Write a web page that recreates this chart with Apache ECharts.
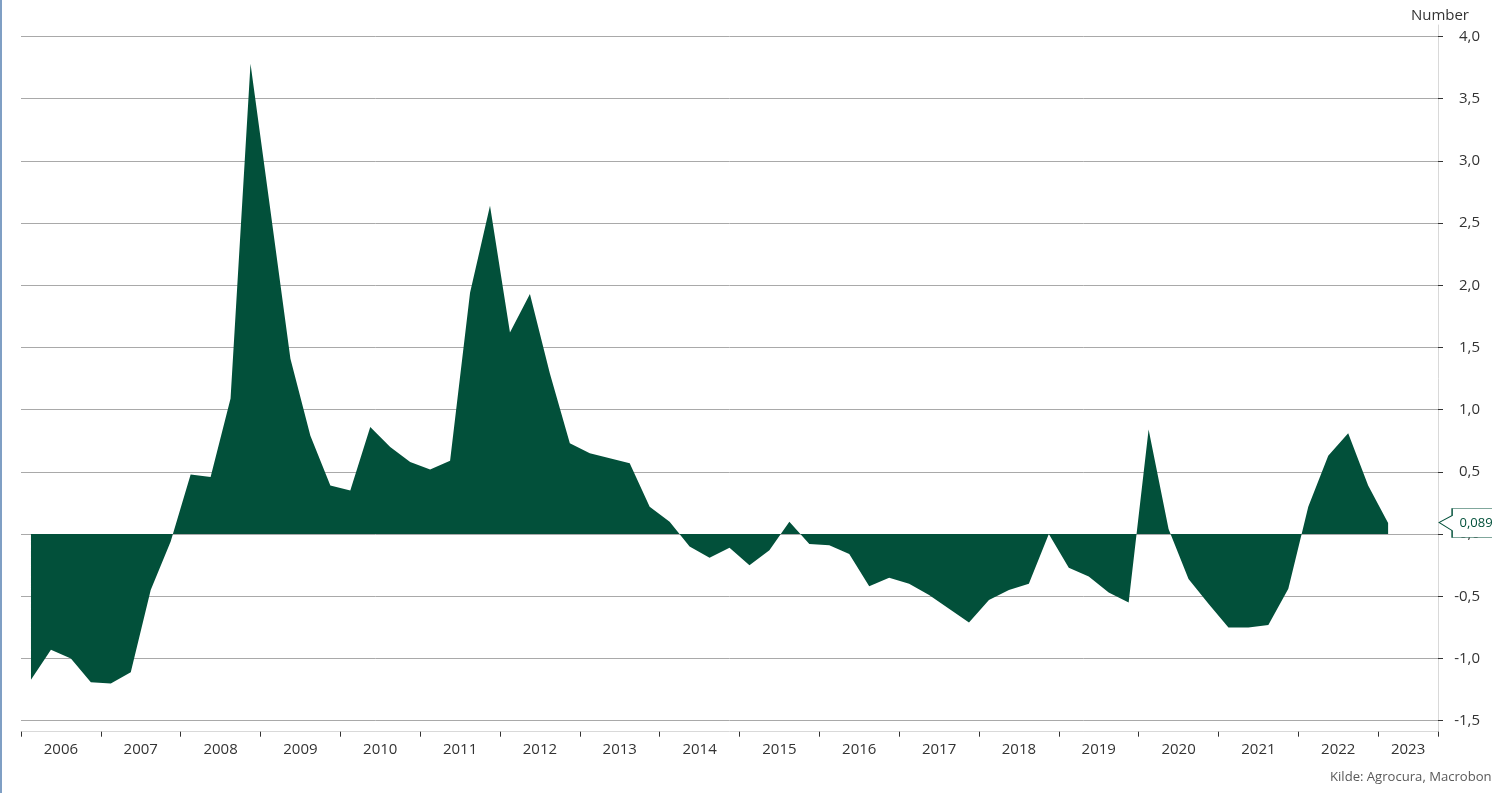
<!DOCTYPE html>
<html>
<head>
<meta charset="utf-8">
<script src="https://cdn.jsdelivr.net/npm/echarts@6/dist/echarts.min.js"></script>
<style>
  html, body { margin: 0; padding: 0; background: #ffffff; overflow: hidden; }
  #chart { width: 1492px; height: 793px; }
  #edge { position: absolute; left: 0; top: 0; width: 2px; height: 793px; background: #7f9fc4; }
</style>
</head>
<body>
<div id="chart"></div>
<div id="edge"></div>
<script>
// ---- Data ----
var years = ['2006','2007','2008','2009','2010','2011','2012','2013','2014','2015','2016','2017','2018','2019','2020','2021','2022','2023'];
var quarterNames = ['Q1','Q2','Q3','Q4'];
// quarterly values from 2006 Q1 to 2023 Q1
var values = [
  -1.17, -0.93, -1.00, -1.19,   // 2006
  -1.20, -1.11, -0.45, -0.06,   // 2007
   0.48,  0.46,  1.09,  3.78,   // 2008
   2.60,  1.41,  0.79,  0.39,   // 2009
   0.35,  0.86,  0.70,  0.58,   // 2010
   0.52,  0.59,  1.94,  2.64,   // 2011
   1.62,  1.93,  1.29,  0.73,   // 2012
   0.65,  0.61,  0.57,  0.22,   // 2013
   0.10, -0.10, -0.19, -0.11,   // 2014
  -0.25, -0.13,  0.10, -0.08,   // 2015
  -0.09, -0.16, -0.42, -0.35,   // 2016
  -0.40, -0.49, -0.60, -0.71,   // 2017
  -0.53, -0.45, -0.40,  0.00,   // 2018
  -0.27, -0.34, -0.47, -0.55,   // 2019
   0.84,  0.04, -0.36, -0.56,   // 2020
  -0.75, -0.75, -0.73, -0.44,   // 2021
   0.22,  0.63,  0.81,  0.39,   // 2022
   0.089                        // 2023 Q1
];
var yTicks = [-1.5, -1.0, -0.5, 0, 0.5, 1.0, 1.5, 2.0, 2.5, 3.0, 3.5, 4.0];
var yName = 'Number';
var sourceText = 'Kilde: Agrocura, Macrobond';

// categories: every quarter from 2006 Q1 to 2023 Q3 (axis end)
var categories = [];
years.forEach(function (y) {
  quarterNames.forEach(function (q, qi) {
    if (y === '2023' && qi > 2) return;
    categories.push(y + ' ' + q);
  });
});

var green = '#02503a';
var lastIdx = values.length - 1;
var fmt = function (v, d) { return v.toFixed(d).replace('.', ','); };

var chart = echarts.init(document.getElementById('chart'), null, { renderer: 'canvas' });
chart.setOption({
  animation: false,
  backgroundColor: '#ffffff',
  textStyle: { fontFamily: 'Open Sans' },
  title: [
    { text: yName, right: 18, top: 3, textStyle: { fontSize: 15, fontWeight: 'normal', color: '#333333', fontFamily: 'Open Sans' } },
    { text: sourceText, left: 1325, top: 766, textStyle: { fontSize: 13.1, fontWeight: 'normal', color: '#595959', fontFamily: 'Open Sans' } }
  ],
  grid: [
    { left: 21, right: 54, top: 36.5, bottom: 72.3, containLabel: false },
    { left: 21, right: 54, top: 25, bottom: 61.3, containLabel: false }
  ],
  xAxis: [
    { type: 'category', gridIndex: 0, data: categories, boundaryGap: true, show: false },
    {
      type: 'category', gridIndex: 1, data: categories, boundaryGap: true, position: 'bottom',
      axisLine: { show: true, lineStyle: { color: '#d9d9d9', width: 1 } },
      axisTick: { show: true, length: 5, interval: function (i) { return i % 4 === 0; }, lineStyle: { color: '#333333', width: 1 } },
      axisLabel: {
        show: true, margin: 11,
        interval: function (i) { return i % 4 === 1; },
        formatter: function (v) {
          var y = v.slice(0, 4);
          return y === years[years.length - 1] ? '{e|' + y + '}' : '{s|' + y + '}';
        },
        rich: {
          s: { padding: [0, 0, 0, 20], fontSize: 15, color: '#333333', fontFamily: 'Open Sans' },
          e: { fontSize: 15, color: '#333333', fontFamily: 'Open Sans' }
        }
      },
      splitLine: { show: false }
    }
  ],
  yAxis: [
    {
      type: 'value', gridIndex: 0, position: 'right',
      min: yTicks[0], max: yTicks[yTicks.length - 1], interval: 0.5,
      axisLine: { show: false },
      axisTick: { show: true, length: 5, lineStyle: { color: '#333333' } },
      axisLabel: {
        show: true, align: 'right', margin: 42, fontSize: 15, color: '#333333', fontFamily: 'Open Sans',
        formatter: function (v) { return fmt(v, 1); }
      },
      splitLine: { show: true, lineStyle: { color: '#a9a9a9', width: 1 } }
    },
    {
      type: 'value', gridIndex: 1, position: 'right', min: 0, max: 1,
      axisLine: { show: true, lineStyle: { color: '#d9d9d9', width: 1 } },
      axisTick: { show: false }, axisLabel: { show: false }, splitLine: { show: false }
    }
  ],
  series: [
    {
      type: 'line', xAxisIndex: 0, yAxisIndex: 0,
      data: values,
      symbol: 'none',
      clip: false,
      lineStyle: { width: 0, color: green },
      itemStyle: { color: green },
      areaStyle: { color: green, opacity: 1 },
      markPoint: {
        symbol: 'path://M0,14L13,7L13,0L62,0L62,29L13,29L13,22Z',
        symbolSize: [62, 29],
        symbolOffset: [82, 0],
        itemStyle: { color: '#ffffff', borderColor: green, borderWidth: 1 },
        label: {
          show: true, position: 'inside', offset: [6, 0],
          color: green, fontSize: 13, fontFamily: 'Open Sans',
          formatter: function (p) { return fmt(p.value, 3); }
        },
        data: [{ coord: [categories[lastIdx], values[lastIdx]], value: values[lastIdx] }]
      }
    }
  ]
});
</script>
</body>
</html>
